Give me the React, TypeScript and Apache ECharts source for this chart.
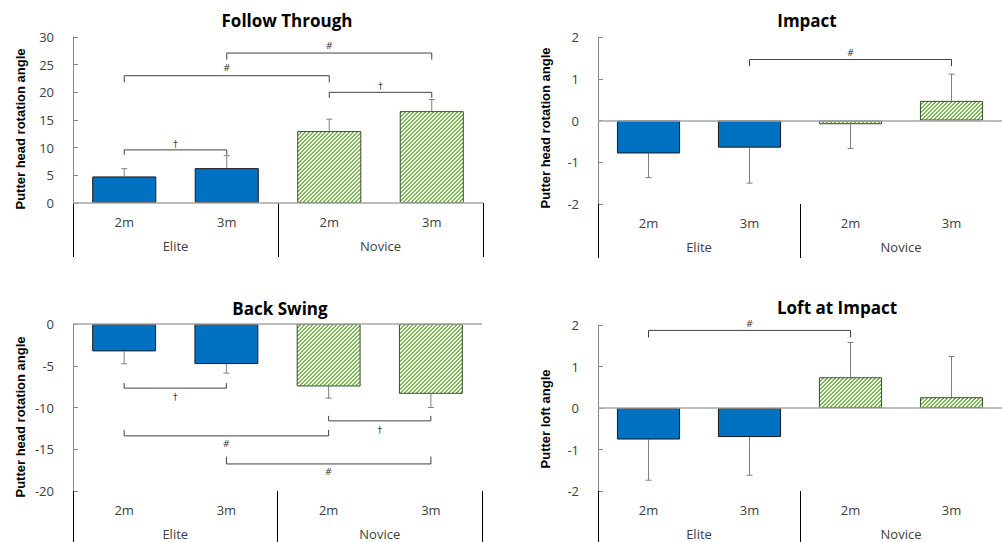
import React, { useEffect, useRef } from "react";
import * as echarts from "echarts";

// ---------- data ----------
const conditions = ["2m", "3m", "2m", "3m"];
const groups = ["Elite", "Novice"];
const panelTitles = ["Follow Through", "Impact", "Back Swing", "Loft at Impact"];
const yTitles = [
  "Putter head rotation angle",
  "Putter head rotation angle",
  "Putter head rotation angle",
  "Putter loft angle",
];
const yMin = [0, -2, -20, -2];
const yMax = [30, 2, 0, 2];
const yStep = [5, 1, 5, 1];

const followMeans = [4.8, 6.3, 13.0, 16.6];
const followSD = [1.4, 2.25, 2.15, 2.1];
const impactMeans = [-0.79, -0.65, -0.09, 0.47];
const impactSD = [0.58, 0.85, 0.58, 0.64];
const backMeans = [-3.28, -4.8, -7.48, -8.36];
const backSD = [1.48, 1.08, 1.4, 1.64];
const loftMeans = [-0.76, -0.7, 0.74, 0.26];
const loftSD = [0.98, 0.92, 0.84, 0.98];

// brackets: [fromIdx, toIdx, lineY, endY, symbolY]
const followBrackets = [
  [0, 1, 9.6, 8.7, 10.7],
  [0, 2, 23.0, 21.8, 24.4],
  [2, 3, 20.0, 19.0, 21.1],
  [1, 3, 27.1, 25.9, 28.3],
];
const followMarks = ["†", "#", "†", "#"];
const impactBrackets = [[1, 3, 1.46, 1.3, 1.62]];
const impactMarks = ["#"];
const backBrackets = [
  [0, 1, -7.68, -7.08, -8.76],
  [2, 3, -11.6, -11.0, -12.68],
  [0, 2, -13.4, -12.68, -14.4],
  [1, 3, -16.76, -15.88, -17.68],
];
const backMarks = ["†", "†", "#", "#"];
const loftBrackets = [[0, 2, 1.87, 1.7, 2.02]];
const loftMarks = ["#"];

const means = [followMeans, impactMeans, backMeans, loftMeans];
const sds = [followSD, impactSD, backSD, loftSD];
const brackets = [followBrackets, impactBrackets, backBrackets, loftBrackets];
const marks = [followMarks, impactMarks, backMarks, loftMarks];

// ---------- layout ----------
const grids = [
  { left: 73, top: 37, width: 410, height: 166 },
  { left: 598, top: 37, width: 409, height: 167 },
  { left: 73, top: 324, width: 409, height: 167 },
  { left: 598, top: 325, width: 409, height: 166 },
];
const titlePos = [
  [287, 20],
  [807, 20],
  [280, 308],
  [837, 307],
];
const yTitlePos = [
  [20, 129],
  [545, 128],
  [20, 417],
  [545, 419],
];

const BLUE = "#0070c0";
const TICK_FONT = "'Open Sans', 'Noto Sans', sans-serif";
const TICK_COLOR = "#404040";

function makeHatch(): HTMLCanvasElement {
  const n = 4;
  const c = document.createElement("canvas");
  c.width = n;
  c.height = n;
  const ctx = c.getContext("2d")!;
  const img = ctx.createImageData(n, n);
  for (let y = 0; y < n; y++) {
    for (let x = 0; x < n; x++) {
      const k = (y * n + x) * 4;
      const on = (x + y) % n < 2;
      const col = on ? [120, 186, 76] : [255, 255, 255];
      img.data[k] = col[0];
      img.data[k + 1] = col[1];
      img.data[k + 2] = col[2];
      img.data[k + 3] = 255;
    }
  }
  ctx.putImageData(img, 0, 0);
  return c;
}

export default function App() {
  const ref = useRef<HTMLDivElement>(null);
  useEffect(() => {
    if (!ref.current) return;
    const chart = echarts.init(ref.current, undefined, { renderer: "svg" });
    const hatch = makeHatch();

    const xAxes: any[] = [];
    const yAxes: any[] = [];
    const series: any[] = [];
    const graphics: any[] = [];

    for (let p = 0; p < 4; p++) {
      xAxes.push({
        type: "category",
        gridIndex: p,
        data: conditions,
        position: "bottom",
        axisLine: { show: false, onZero: false },
        axisTick: { show: false },
        axisLabel: { margin: 12, color: TICK_COLOR, fontSize: 13, fontFamily: TICK_FONT },
      });
      xAxes.push({
        type: "category",
        gridIndex: p,
        data: groups,
        position: "bottom",
        axisLine: { show: false, onZero: false },
        axisTick: {
          show: true,
          interval: 0,
          length: p < 2 ? 54 : 60,
          lineStyle: { color: "#000", width: 1 },
        },
        axisLabel: { margin: 36, color: TICK_COLOR, fontSize: 13, fontFamily: TICK_FONT },
      });
      yAxes.push({
        type: "value",
        gridIndex: p,
        min: yMin[p],
        max: yMax[p],
        interval: yStep[p],
        axisLine: { show: true, lineStyle: { color: "#868686", width: 1 } },
        axisTick: { show: true, inside: true, length: 5, lineStyle: { color: "#868686" } },
        splitLine: { show: false },
        axisLabel: { margin: 19, color: TICK_COLOR, fontSize: 13, fontFamily: TICK_FONT },
      });

      const barData = means[p].map((v, i) => ({
        value: v,
        itemStyle:
          i < 2
            ? { color: BLUE, borderColor: "#1a1a1a", borderWidth: 1 }
            : {
                color: { image: hatch, repeat: "repeat", imageWidth: 4, imageHeight: 4 },
                borderColor: "#3d4a35",
                borderWidth: 1,
              },
      }));
      series.push({
        type: "bar",
        xAxisIndex: 2 * p,
        yAxisIndex: p,
        barWidth: "62.5%",
        data: barData,
        silent: true,
        markLine: {
          silent: true,
          symbol: ["none", "none"],
          label: { show: false },
          lineStyle: { color: "#a6a6a6", width: 1.5, type: "solid" },
          data: [{ yAxis: 0 }],
        },
      });

      series.push({
        type: "custom",
        xAxisIndex: 2 * p,
        yAxisIndex: p,
        silent: true,
        encode: { x: 0, y: 1 },
        data: means[p].map((m, i) => [i, m, sds[p][i]]),
        renderItem: (params: any, api: any) => {
          const x = api.value(0);
          const m = api.value(1);
          const e = api.value(2);
          const end = m >= 0 ? m + e : m - e;
          const a = api.coord([x, m]);
          const b = api.coord([x, end]);
          const st = { stroke: "#7f7f7f", lineWidth: 1 };
          return {
            type: "group",
            children: [
              { type: "line", shape: { x1: a[0], y1: a[1], x2: b[0], y2: b[1] }, style: st },
              { type: "line", shape: { x1: b[0] - 3, y1: b[1], x2: b[0] + 3, y2: b[1] }, style: st },
            ],
          };
        },
      });

      const mk = marks[p];
      series.push({
        type: "custom",
        xAxisIndex: 2 * p,
        yAxisIndex: p,
        silent: true,
        clip: false,
        encode: { x: [0, 1], y: [2, 3, 4] },
        data: brackets[p],
        renderItem: (params: any, api: any) => {
          const f = api.value(0);
          const t = api.value(1);
          const ly = api.value(2);
          const ey = api.value(3);
          const sy = api.value(4);
          const p1 = api.coord([f, ly]);
          const p2 = api.coord([t, ly]);
          const e1 = api.coord([f, ey]);
          const e2 = api.coord([t, ey]);
          const s = api.coord([f, sy]);
          const st = { stroke: "#404040", lineWidth: 1 };
          return {
            type: "group",
            children: [
              { type: "polyline", shape: { points: [e1, p1, p2, e2] }, style: { ...st, fill: null } },
              {
                type: "text",
                x: (p1[0] + p2[0]) / 2,
                y: s[1],
                style: {
                  text: mk[params.dataIndex],
                  fill: "#404040",
                  fontSize: 9,
                  fontFamily: "'DejaVu Sans', sans-serif",
                  align: "center",
                  verticalAlign: "middle",
                },
              },
            ],
          };
        },
      });

      graphics.push({
        type: "text",
        x: titlePos[p][0],
        y: titlePos[p][1],
        style: {
          text: panelTitles[p],
          fill: "#000",
          fontSize: 17,
          fontWeight: "bold",
          fontFamily: TICK_FONT,
          align: "center",
          verticalAlign: "middle",
        },
      });
      graphics.push({
        type: "text",
        x: yTitlePos[p][0],
        y: yTitlePos[p][1],
        rotation: Math.PI / 2,
        style: {
          text: yTitles[p],
          fill: "#000",
          fontSize: 13,
          fontWeight: "bold",
          fontFamily: "'Liberation Sans', Arial, sans-serif",
          align: "center",
          verticalAlign: "middle",
        },
      });
    }

    chart.setOption({
      animation: false,
      backgroundColor: "#ffffff",
      grid: grids.map((g) => ({ ...g, containLabel: false })),
      xAxis: xAxes,
      yAxis: yAxes,
      series,
      graphic: graphics,
    });
    return () => chart.dispose();
  }, []);

  return (
    <div
      ref={ref}
      style={{ position: "fixed", left: 0, top: 0, width: 1002, height: 542, background: "#fff" }}
    />
  );
}
